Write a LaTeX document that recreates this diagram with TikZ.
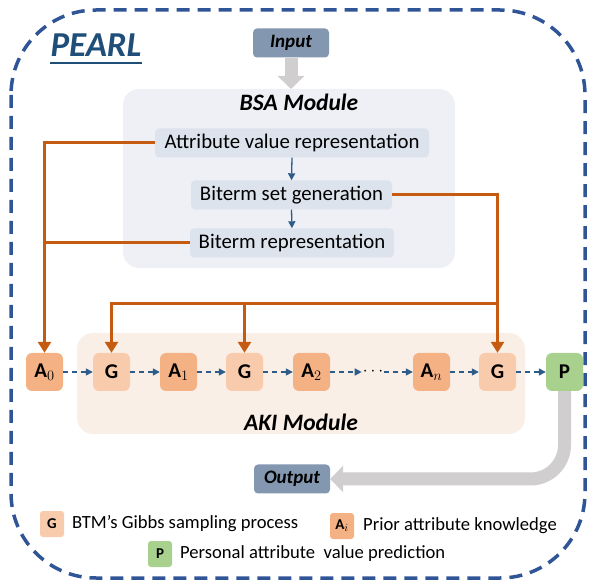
\documentclass[tikz,border=0pt]{standalone}
\usepackage{fontspec}
\setmainfont{Carlito}
\usetikzlibrary{arrows.meta,calc}
\definecolor{bordblue}{HTML}{2F5597}
\definecolor{pearlblue}{HTML}{1F4E79}
\definecolor{iobox}{HTML}{8497B0}
\definecolor{bsapanel}{HTML}{EEF0F5}
\definecolor{bsabox}{HTML}{DCE3EC}
\definecolor{akipanel}{HTML}{FAEFE6}
\definecolor{afill}{HTML}{F4B183}
\definecolor{gfill}{HTML}{F8CBAD}
\definecolor{pfill}{HTML}{A9D18E}
\definecolor{wire}{HTML}{C55A11}
\definecolor{arrgray}{HTML}{D0CECE}
\definecolor{smallblue}{HTML}{2E5C8A}
\begin{document}
\begin{tikzpicture}[x=1pt,y=-1pt,
  bsanode/.style={fill=bsabox, rounded corners=4pt, minimum height=29pt, inner sep=0pt, font=\fontsize{20.8}{24}\selectfont},
  rownode/.style={rounded corners=6pt, minimum width=37pt, minimum height=38pt, inner sep=0pt, font=\fontsize{21}{24}\selectfont\bfseries},
  anode/.style={rownode, fill=afill},
  gnode/.style={rownode, fill=gfill},
  pnode/.style={rownode, fill=pfill},
  legbox/.style={rounded corners=3pt, minimum width=24pt, minimum height=26pt, inner sep=0pt, font=\fontsize{15}{17}\selectfont\bfseries},
  legtext/.style={anchor=west, inner sep=0pt, font=\fontsize{18.6}{21}\selectfont},
  title/.style={font=\fontsize{23.5}{26}\selectfont\bfseries\itshape},
  iobox/.style={fill=iobox, rounded corners=4pt, minimum width=76pt, minimum height=29pt, inner sep=0pt, font=\fontsize{19}{22}\selectfont\bfseries\itshape},
  wireline/.style={draw=wire, line width=3pt},
  wirearrow/.style={wireline, -{Triangle[width=13pt,length=11pt]}},
  flow/.style={draw=smallblue, line width=1.4pt, dashed, dash pattern=on 5pt off 4pt, -{Triangle[width=7pt,length=7pt]}},
  sflow/.style={draw=smallblue, line width=1.3pt, -{Triangle[width=7pt,length=7pt]}},
  fat/.style={draw=arrgray, line width=13pt, -{Triangle[width=26pt,length=13pt]}}
]
\useasboundingbox (0,0) rectangle (595,585);
% outer dashed border
\draw[bordblue, line width=3.5pt, dash pattern=on 13pt off 8pt, rounded corners=85pt]
  (11,10) rectangle (585,578);
% PEARL title
\node[text=pearlblue, font=\fontsize{35}{40}\selectfont\bfseries\itshape, anchor=center] (pearl) at (96,45) {PEARL};
\draw[pearlblue, line width=1.6pt] (50,63) -- (142,63);

% panels
\fill[bsapanel, rounded corners=16pt] (123,89) rectangle (455,268);
\fill[akipanel, rounded corners=16pt] (77,333) rectangle (525,434);
\node[title] (bsat) at (299,102) {BSA Module};
\node[title] (akit) at (301,422) {AKI Module};

% Input
\node[iobox] (input) at (291,43) {Input};
\draw[fat] (input.south) -- (291,89);

% BSA nodes
\node[bsanode, minimum width=274pt] (avr) at (292,143) {Attribute value representation};
\node[bsanode, minimum width=201pt] (bset) at (291.5,195) {Biterm set generation};
\node[bsanode, minimum width=204pt] (brep) at (292,243) {Biterm representation};
\draw[sflow] (avr.south) -- (bset.north);
\draw[sflow] (bset.south) -- (brep.north);

% row nodes
\node[anode] (a0) at (44.5,372) {A$_0$};
\node[gnode] (g1) at (111.5,372) {G};
\node[anode] (a1) at (178.5,372) {A$_1$};
\node[gnode] (g2) at (244.5,372) {G};
\node[anode] (a2) at (311.5,372) {A$_2$};
\node[font=\fontsize{19}{22}\selectfont, inner sep=1pt] (dots) at (373,372) {$\cdots$};
\node[anode] (an) at (431.5,372) {A$_{n}$};
\node[gnode] (g3) at (497.5,372) {G};
\node[pnode] (p) at (564.5,372) {P};

\draw[flow] (a0) -- (g1);
\draw[flow] (g1) -- (a1);
\draw[flow] (a1) -- (g2);
\draw[flow] (g2) -- (a2);
\draw[flow] (a2) -- (dots);
\draw[flow] (dots) -- (an);
\draw[flow] (an) -- (g3);
\draw[flow] (g3) -- (p);

% orange wiring
\draw[wirearrow] (avr.west) -| (a0.north);
\draw[wireline] (brep.west) -- (brep.west -| a0.north);
\draw[wirearrow] (bset.east) -| (g3.north);
\coordinate (hj) at (497.5,304);
\draw[wirearrow] (hj) -| (g1.north);
\draw[wirearrow] (hj -| g2.north) -- (g2.north);

% Output
\node[iobox] (output) at (292,479) {Output};
\draw[fat, rounded corners=34pt] (p.south) |- (output.east);

% legend
\node[legbox, fill=gfill] (lg) at (52,524) {G};
\node[legtext] (lgt) at (72,524) {BTM’s Gibbs sampling process};
\node[legbox, fill=afill] (la) at (342,526) {A$_i$};
\node[legtext] (lat) at (363,526) {Prior attribute knowledge};
\node[legbox, fill=pfill] (lp) at (160,554) {P};
\node[legtext] (lpt) at (180,554) {Personal attribute\ \ value prediction};
\end{tikzpicture}
\end{document}
